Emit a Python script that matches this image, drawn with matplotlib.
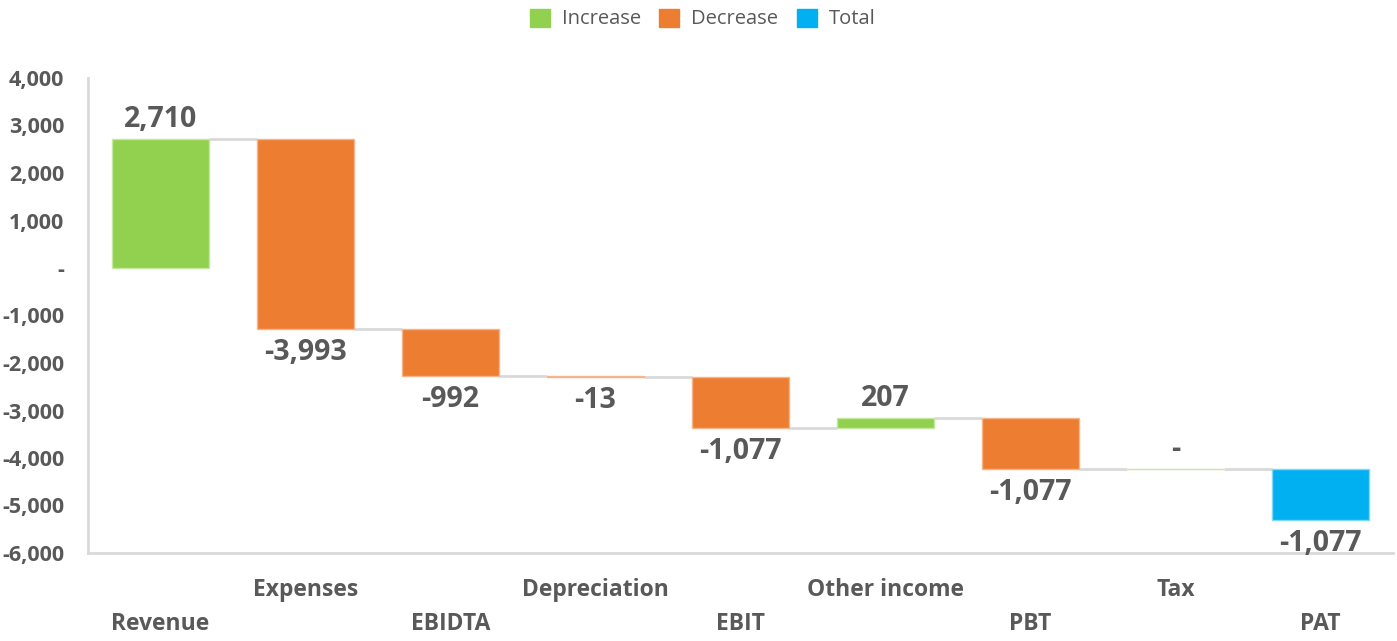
import matplotlib.pyplot as plt
from matplotlib.patches import Patch
from matplotlib.transforms import blended_transform_factory

categories = ["Revenue", "Expenses", "EBIDTA", "Depreciation", "EBIT",
              "Other income", "PBT", "Tax", "PAT"]
changes = [2710, -3993, -992, -13, -1077, 207, -1077, 0, -1077]
kinds = ["inc", "dec", "dec", "dec", "dec", "inc", "dec", "inc", "total"]
labels = ["2,710", "-3,993", "-992", "-13", "-1,077", "207", "-1,077", "-", "-1,077"]

colors = {"inc": "#92D050", "dec": "#ED7D31", "total": "#00B0F0"}
edges = {"inc": "#C5E8A0", "dec": "#F6B48A", "total": "#7FD8F8"}
txt = "#595959"
font = "Open Sans"

fig = plt.figure(figsize=(13.97, 6.41), dpi=100)
ax = fig.add_axes([88 / 1397, 1 - 553 / 641, 1305 / 1397, 475 / 641])

# waterfall bases
bases = []
level = 0
for v in changes:
    bases.append(level)
    level += v

width = 0.667
for i, (b, v, k) in enumerate(zip(bases, changes, kinds)):
    ax.bar(i, v, bottom=b, width=width, color=colors[k], edgecolor=edges[k],
           linewidth=1, zorder=3)
    # data labels
    top = max(b, b + v)
    bot = min(b, b + v)
    if k == "inc":
        ax.text(i, top + 110, labels[i], ha="center", va="bottom", fontsize=20.5,
                fontweight="bold", color=txt, family=font)
    else:
        ax.text(i, bot - 190, labels[i], ha="center", va="top", fontsize=20.5,
                fontweight="bold", color=txt, family=font)

# connectors
for i in range(len(changes) - 1):
    lvl = bases[i] + changes[i]
    ax.plot([i + width / 2, i + 1 - width / 2], [lvl, lvl], color="#D9D9D9",
            lw=2, zorder=2, solid_capstyle="butt")

ax.set_xlim(-0.5, len(categories) - 0.5)
ax.set_ylim(-6000, 4000)
ax.set_yticks(range(-6000, 4001, 1000))
ax.set_yticklabels([f"{t:,}" if t != 0 else "-" for t in range(-6000, 4001, 1000)])
ax.set_xticks([])
for lab in ax.get_yticklabels():
    lab.set_fontweight("bold")
    lab.set_fontsize(15.5)
    lab.set_color(txt)
    lab.set_family(font)
ax.tick_params(axis="y", length=0, pad=17)

for s in ["top", "right"]:
    ax.spines[s].set_visible(False)
for s in ["left", "bottom"]:
    ax.spines[s].set_color("#D9D9D9")
    ax.spines[s].set_linewidth(2)

# staggered category labels
trans = blended_transform_factory(ax.transData, ax.transAxes)
for i, c in enumerate(categories):
    y = -0.149 if i % 2 == 0 else -0.078
    ax.text(i, y, c, transform=trans, ha="center", va="center", fontsize=16.5,
            fontweight="bold", color=txt, family=font)

handles = [Patch(color=colors["inc"], label="Increase"),
           Patch(color=colors["dec"], label="Decrease"),
           Patch(color=colors["total"], label="Total")]
fig.legend(handles=handles, loc="center", bbox_to_anchor=(0.503, 1 - 19 / 641),
           ncol=3, frameon=False, handlelength=1.0, handleheight=1.0,
           handletextpad=0.6, columnspacing=0.9,
           prop={"family": font, "size": 14.5}, labelcolor=txt)

fig.savefig("out.png", dpi=100)
